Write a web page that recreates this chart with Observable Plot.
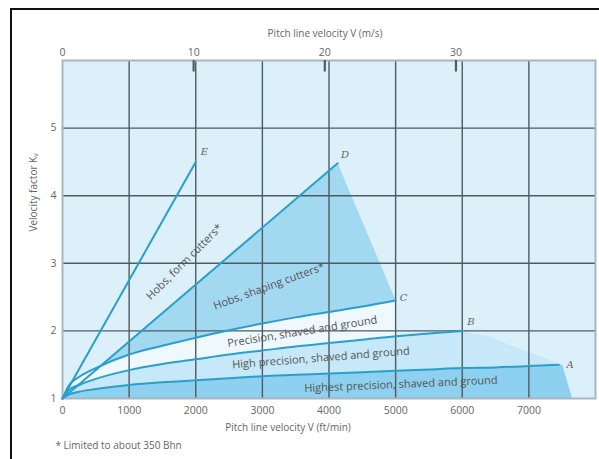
<!DOCTYPE html>
<html><head><meta charset="utf-8">
<script src="https://cdn.jsdelivr.net/npm/d3@7"></script>
<script src="https://cdn.jsdelivr.net/npm/@observablehq/plot@0.6"></script>
<style>
html,body{margin:0;padding:0;background:#fff;}
#frame{position:absolute;left:10px;top:8px;width:600px;height:460px;border-top:2px solid #111;border-left:2px solid #111;}
#chart{position:absolute;left:0;top:0;}
</style></head><body><div id="frame"></div><div id="chart"></div>
<script>
// Tick values
const ftTicks = [0, 1000, 2000, 3000, 4000, 5000, 6000, 7000];
const msTicks = [0, 10, 20, 30];
const kvTicks = [1, 2, 3, 4, 5];
const FT_PER_MS = 196.85;

// Curves (V in ft/min, Kv)
const curveE = [{v:0,k:1},{v:2000,k:4.5}];
const curveD = [{v:0,k:1},{v:4130,k:4.48}];
const curveC = [{v:0,k:1},{v:100,k:1.2},{v:250,k:1.32},{v:500,k:1.45},{v:1000,k:1.65},{v:1500,k:1.78},{v:2000,k:1.9},{v:2500,k:2.01},{v:3000,k:2.11},{v:3500,k:2.2},{v:4000,k:2.28},{v:4500,k:2.36},{v:5000,k:2.45}];
const curveB = [{v:0,k:1},{v:100,k:1.13},{v:250,k:1.2},{v:500,k:1.29},{v:1000,k:1.42},{v:1500,k:1.51},{v:2000,k:1.58},{v:2500,k:1.65},{v:3000,k:1.71},{v:3500,k:1.77},{v:4000,k:1.82},{v:4500,k:1.87},{v:5000,k:1.92},{v:5500,k:1.96},{v:6000,k:2.0}];
const curveA = [{v:0,k:1},{v:100,k:1.06},{v:250,k:1.1},{v:500,k:1.14},{v:1000,k:1.2},{v:1500,k:1.24},{v:2000,k:1.27},{v:2500,k:1.3},{v:3000,k:1.33},{v:3500,k:1.35},{v:4000,k:1.37},{v:4500,k:1.39},{v:5000,k:1.41},{v:5500,k:1.43},{v:6000,k:1.45},{v:6500,k:1.46},{v:7000,k:1.48},{v:7450,k:1.5}];
// Shading edges
const edgeDC = [{v:5000,k:2.45}];
const edgeBA = [{v:6400,k:1.92},{v:6700,k:1.8},{v:7100,k:1.65},{v:7400,k:1.53}];
const edgeA = [{v:7500,k:1.5},{v:7650,k:1.0}];

const endLabels = [{v:2130,k:4.65,t:"E"},{v:4240,k:4.6,t:"D"},{v:5120,k:2.49,t:"C"},{v:6130,k:2.14,t:"B"},{v:7620,k:1.5,t:"A"}];
const bandLabels = [
  {v:1830,k:3.02,t:"Hobs, form cutters*",a:-45},
  {v:3100,k:2.66,t:"Hobs, shaping cutters*",a:-20},
  {v:3600,k:1.99,t:"Precision, shaved and ground",a:-9},
  {v:3880,k:1.6,t:"High precision, shaved and ground",a:-4.5},
  {v:5080,k:1.21,t:"Highest precision, shaved and ground",a:-2.5}
];

const rev = a => a.slice().reverse();
const polyDC = [...curveD, ...edgeDC, ...rev(curveC)];
const polyCB = [...curveC, ...rev(curveB.filter(d => d.v <= 5000))];
const polyBA = [...curveB, ...edgeBA, ...rev(curveA)];
const polyA = [...curveA, ...edgeA, {v:0,k:1}];

const lineColor = "#2a9fcc";
const gridColor = "#4f5b62";
const textColor = "#666";

const chart = Plot.plot({
  width: 599, height: 459,
  marginLeft: 62, marginRight: 4, marginTop: 60, marginBottom: 61,
  x: {domain: [0, 8000]},
  y: {domain: [1, 6]},
  style: {fontFamily: "'Open Sans', sans-serif", fontSize: "10px", color: textColor, background: "transparent"},
  marks: [
    Plot.frame({fill: "#dcf0fa", stroke: "none"}),
    Plot.line(polyDC, {x:"v", y:"k", fill:"#a3d8f1", stroke:"none", curve:"linear"}),
    Plot.line(polyCB, {x:"v", y:"k", fill:"#eef8fd", stroke:"none"}),
    Plot.line(polyBA, {x:"v", y:"k", fill:"#c6e8f8", stroke:"none"}),
    Plot.line(polyA, {x:"v", y:"k", fill:"#8dd0ef", stroke:"none"}),
    Plot.ruleX(ftTicks.slice(1), {stroke: gridColor, strokeWidth: 1.4}),
    Plot.ruleY(kvTicks.slice(1), {stroke: gridColor, strokeWidth: 1.4}),
    Plot.frame({stroke: "#a9b6bd", strokeWidth: 2}),
    Plot.ruleX(msTicks.slice(1).map(d => d * FT_PER_MS), {y1: 6, y2: 5.83, stroke: gridColor, strokeWidth: 2.2}),
    Plot.line(curveE, {x:"v", y:"k", stroke: lineColor, strokeWidth: 2}),
    Plot.line(curveD, {x:"v", y:"k", stroke: lineColor, strokeWidth: 2}),
    Plot.line(curveC, {x:"v", y:"k", stroke: lineColor, strokeWidth: 2, curve: "monotone-x"}),
    Plot.line(curveB, {x:"v", y:"k", stroke: lineColor, strokeWidth: 2, curve: "monotone-x"}),
    Plot.line(curveA, {x:"v", y:"k", stroke: lineColor, strokeWidth: 2, curve: "monotone-x"}),
    Plot.text(endLabels, {x:"v", y:"k", text:"t", fontFamily:"'DejaVu Serif', serif", fontStyle:"italic", fontSize: 10, fill: textColor}),
    Plot.text(bandLabels, {x:"v", y:"k", text:"t", rotate:"a", fontSize: 11, fill: "#555"}),
    Plot.axisX({ticks: ftTicks, anchor: "bottom", tickSize: 0, tickPadding: 8, label: null, fontSize: 10.5, tickFormat: d => String(d)}),
    Plot.axisX({ticks: msTicks.map(d => d * FT_PER_MS), anchor: "top", tickSize: 0, tickPadding: 5, label: null, tickFormat: d => String(Math.round(d / FT_PER_MS)), fontSize: 10.5}),
    Plot.axisY({ticks: kvTicks, anchor: "left", tickSize: 0, tickPadding: 6, label: null, fontSize: 10.5, tickFormat: d => String(d)}),
    Plot.text(["Pitch line velocity V (m/s)"], {frameAnchor: "top", dx: -4, dy: -31, fontSize: 10, fill: textColor}),
    Plot.text(["Pitch line velocity V (ft/min)"], {frameAnchor: "bottom", dx: -41, dy: 32, fontSize: 10, fill: textColor}),
    Plot.text(["* Limited to about 350 Bhn"], {frameAnchor: "bottom-left", textAnchor: "start", dx: -7, dy: 50, fontSize: 10, fill: textColor}),
    Plot.text(["Velocity factor Kᵥ"], {frameAnchor: "left", rotate: -90, dx: -29, dy: 2, fontSize: 10, fill: textColor})
  ]
});
document.getElementById("chart").appendChild(chart);
</script></body></html>
